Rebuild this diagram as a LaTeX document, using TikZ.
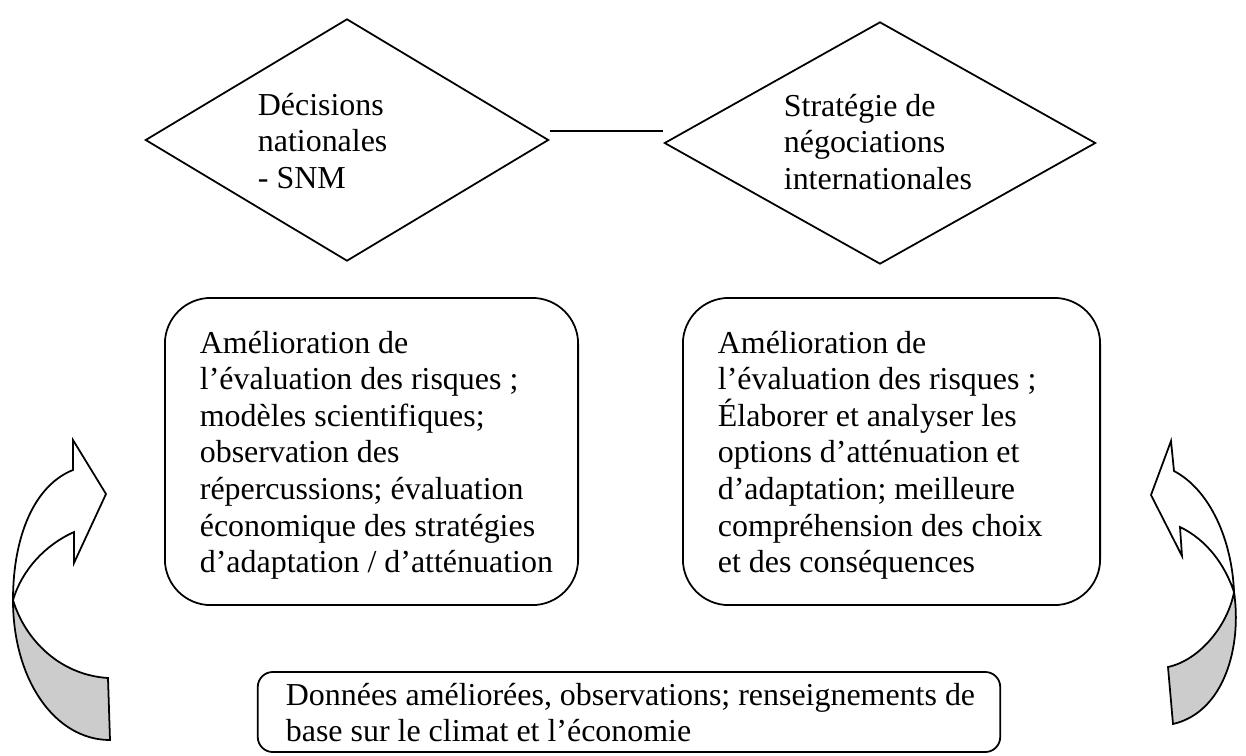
\documentclass[tikz,border=0pt]{standalone}
\usepackage{fontspec}
\setmainfont{Liberation Serif}
\usetikzlibrary{shapes.geometric,calc}
\definecolor{backgray}{RGB}{204,204,204}

\begin{document}
\begin{tikzpicture}[x=0.012cm, y=-0.012cm, line width=0.6pt,
    decision/.style={draw, shape=diamond, inner sep=0pt, minimum height=2.904cm},
    roundbox/.style={draw, rounded corners=0.55cm, inner sep=0pt, minimum height=3.684cm},
    txt/.style={anchor=north west, inner sep=0pt, align=left, font=\fontsize{10.9pt}{12.5pt}\selectfont}]
    \useasboundingbox (0,0) rectangle (1246,755);
    \node [decision, minimum width=4.836cm] (natdec) at (347,140) {};
    \node [decision, minimum width=5.172cm] (negoc) at (880,143) {};
    \draw ($(natdec.east)+(0,-9)$) -- ($(negoc.west)+(0,-12)$);
    \node [txt] (natdectxt) at (257,92) {Décisions\\nationales\\- SNM};
    \node [txt] (negoctxt) at (783,93) {Stratégie de\\négociations\\internationales};
    \node [roundbox, minimum width=4.956cm] (evalL) at (371.5,451.5) {};
    \node [roundbox, minimum width=5.004cm] (evalR) at (891.5,451.5) {};
    \node [txt] (evalLtxt) at (199,330) {Amélioration de\\l’évaluation des risques ;\\modèles scientifiques;\\observation des\\répercussions; évaluation\\économique des stratégies\\d’adaptation / d’atténuation};
    \node [txt] (evalRtxt) at (717,330) {Amélioration de\\l’évaluation des risques ;\\Élaborer et analyser les\\options d’atténuation et\\d’adaptation; meilleure\\compréhension des choix\\et des conséquences};
    \node [draw, rounded corners=0.18cm, inner sep=0pt, minimum width=8.904cm, minimum height=0.96cm] (data) at (629,712) {};
    \node [txt] (datatxt) at (285,682) {Données améliorées, observations; renseignements de\\base sur le climat et l’économie};
    % curved arrows
    \coordinate (lc) at (13,600);
    \filldraw [fill=backgray] (lc) .. controls (13,680) and (55,740) .. (110,740) -- (108,678) .. controls (60,675) and (25,640) .. (lc) -- cycle;
    \filldraw [fill=white] (73,470) -- (73,440) -- (106,494) -- (74,563) -- (74,532) .. controls (45,545) and (22,570) .. (lc) .. controls (13,535) and (35,485) .. (73,470) -- cycle;
    \coordinate (rc) at (1234,592);
    \filldraw [fill=backgray] (rc) .. controls (1242,645) and (1225,712) .. (1173,724) -- (1168,667) .. controls (1200,660) and (1228,625) .. (rc) -- cycle;
    \filldraw [fill=white] (1174,471) -- (1171,441) -- (1151,495) -- (1182,556) -- (1180,527) .. controls (1207,540) and (1225,565) .. (rc) .. controls (1232,540) and (1210,490) .. (1174,471) -- cycle;
  \end{tikzpicture}
\end{document}
